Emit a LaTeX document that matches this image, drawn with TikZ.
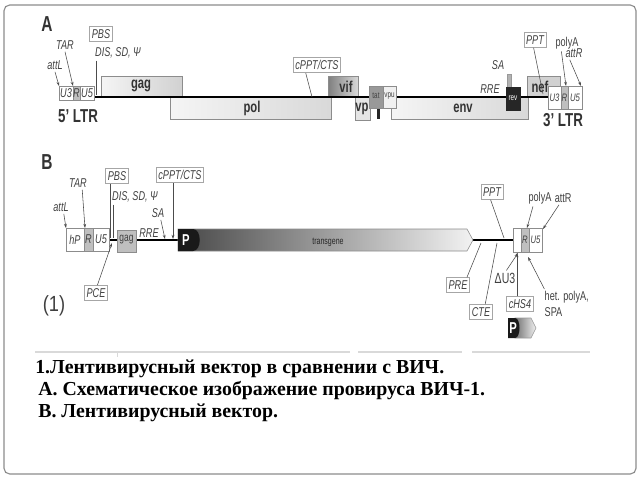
\documentclass[tikz,border=0pt]{standalone}
\usepackage{fontspec}
\setmainfont{Liberation Sans}
\newfontfamily\capfont{Liberation Serif}
\usetikzlibrary{arrows.meta}
\tikzset{
  bb/.style={line width=1.8pt},
  gbox/.style={draw=black!45, fill=black!10},
  lbl/.style={font=\fontsize{6.5}{8}\selectfont\itshape, text=black!75, inner sep=1pt, yscale=1.4, transform shape},
  upl/.style={lbl, font=\fontsize{6.5}{8}\selectfont},
  tagbox/.style={lbl, draw=black!35, fill=white, inner sep=1.5pt},
  gname/.style={font=\fontsize{8}{9}\selectfont\bfseries, text=black!80, inner sep=0pt, yscale=1.4, transform shape},
  ptr/.style={draw=black!70, line width=0.4pt},
  ar/.style={ptr, -{Stealth[length=3pt, width=2pt]}},
  capline/.style={anchor=base west, inner sep=0pt, font=\capfont\bfseries\fontsize{14.1}{16}\selectfont},
}
\begin{document}
\begin{tikzpicture}[x=0.025cm, y=-0.025cm]
\useasboundingbox (0,0) rectangle (640,480);
\draw[black!45, line width=0.8pt, rounded corners=4pt] (4,5) rectangle (636,474);

% A: provirus
\node[gname, font=\fontsize{11}{12}\selectfont\bfseries] (labA) at (47,24) {A};
\coordinate (ltr5) at (94,97);
\coordinate (ltr3) at (548,97);
\draw[gbox, left color=black!4, right color=black!18] (101,76) rectangle (182,97);
\node[gname] (gagA) at (141,86) {gag};
\draw[gbox, left color=black!4, right color=black!15] (170,97) rectangle (331,119);
\node[gname] (polA) at (252,108) {pol};
\draw[gbox, left color=black!50, right color=black!15] (328,76) rectangle (358,97);
\node[gname] (vifA) at (346,87) {vif};
\draw[gbox, fill=black!10] (355,97) rectangle (370,120);
\node[gname] (vprA) at (362,109) {vp};
\draw[gbox, left color=black!4, right color=black!15] (391,97) rectangle (528,119);
\node[gname] (envA) at (463,108) {env};
\draw[gbox, fill=black!18] (527,76) rectangle (560,97);
\node[gname] (nefA) at (540,87) {nef};
\draw[bb] (ltr5) -- (ltr3);
% small genes over the backbone
\fill[black!85] (377,108) rectangle (380,119);
\draw[gbox, fill=black!40] (369,86) rectangle (383,108);
\node[upl, font=\fontsize{4.5}{5}\selectfont] (tatA) at (376,96) {tat};
\draw[gbox, fill=black!6] (383,86) rectangle (396,108);
\node[upl, font=\fontsize{4.5}{5}\selectfont] (vpuA) at (389.5,96) {vpu};
\draw[black!40, fill=black!30] (507,74) rectangle (511,87);
\draw[black!85, fill=black!85] (506,87) rectangle (520,110);
\node[upl, font=\fontsize{4.5}{5}\selectfont, text=white] (revA) at (513,98) {rev};
\foreach \a/\b/\c/\t in {59/73/white/U3, 73/80/black!25/R, 80/94/white/U5}{
  \draw[black!45, fill=\c] (\a,86) rectangle (\b,100);
  \node[lbl] (l5\t) at ({(\a+\b)/2},93) {\t};}
\foreach \a/\b/\c/\t in {548/561/white/U3, 561/568/black!25/R, 568/582/white/U5}{
  \draw[black!45, fill=\c] (\a,86) rectangle (\b,109);
  \node[lbl, font=\fontsize{5.5}{6}\selectfont\itshape] (l3\t) at ({(\a+\b)/2},97.5) {\t};}
\node[gname, font=\fontsize{9.5}{10}\selectfont\bfseries] (ltr5lbl) at (78,116) {5' LTR};
\node[gname, font=\fontsize{9.5}{10}\selectfont\bfseries] (ltr3lbl) at (563,120) {3' LTR};

\node[lbl] (attLA) at (55,65) {attL};
\node[lbl] (tarA) at (65,45) {TAR};
\node[tagbox] (pbsA) at (101,34) {PBS};
\node[lbl] (disA) at (118,53) {DIS, SD, Ψ};
\node[tagbox] (cpptA) at (317,65) {cPPT/CTS};
\node[lbl] (saA) at (498,65) {SA};
\node[lbl] (rreA) at (490,89) {RRE};
\node[tagbox] (pptA) at (535,40) {PPT};
\node[upl] (polyAA) at (567,43) {polyA};
\node[lbl] (attRA) at (574,53) {attR};
\coordinate (attLAt) at (59,86);
\coordinate (tarAt) at (73,86);
\coordinate (disAt) at (96,95);
\coordinate (cpptAt) at (312,97);
\coordinate (pptAt) at (543,94);
\coordinate (polyAAt) at (566,86);
\coordinate (attRAt) at (581,86);
\draw[ar] (attLA.south) -- (attLAt);
\draw[ar] (tarA.south) -- (tarAt);
\draw[ptr] (disAt |- disA.south) -- (disAt);
\draw[ptr] ([xshift=-8pt]cpptA.south) -- (cpptAt);
\draw[ptr] ([xshift=-1pt]pptA.south) -- (pptAt);
\draw[ar] ([xshift=-4pt]polyAA.south) -- (polyAAt);
\draw[ar] ([xshift=-3pt]attRA.south) -- (attRAt);

% B: vector
\node[gname, font=\fontsize{11}{12}\selectfont\bfseries] (labB) at (47,162) {B};
\coordinate (ltrBl) at (109,240);
\coordinate (ltrBr) at (513,240);
\draw[bb] (ltrBl) -- (ltrBr);
\draw[gbox, fill=black!25] (117,230) rectangle (136,252);
\node[upl, font=\fontsize{6}{7}\selectfont] (gagB) at (126.5,240) {gag};
\path[draw=black!45, left color=black!72, right color=black!5]
  (178,229) -- (467,229) -- (473,240) -- (467,251) -- (178,251) -- cycle;
\fill[black!90] (178,229) -- (193,229) .. controls (202,229) and (202,251) .. (193,251) -- (178,251) -- cycle;
\node[gname, text=white] (pB) at (186,240) {P};
\node[upl, font=\fontsize{5}{6}\selectfont, text=black!85] (tgB) at (328,242) {transgene};
\foreach \a/\b/\c/\t/\n in {66/84/white/hP/1, 84/93/black!25/R/2, 93/109/white/U5/3}{
  \draw[black!45, fill=\c] (\a,228) rectangle (\b,251);
  \node[lbl] (lL\n) at ({(\a+\b)/2},239.5) {\t};}
\foreach \a/\b/\c/\t/\n in {513/521/white//1, 521/529/black!25/R/2, 529/542/white/U5/3}{
  \draw[black!45, fill=\c] (\a,228) rectangle (\b,252);
  \node[lbl, font=\fontsize{5.5}{6}\selectfont\itshape] (lR\n) at ({(\a+\b)/2},240) {\t};}

\node[lbl] (attLB) at (61,207) {attL};
\node[lbl] (tarB) at (78,183) {TAR};
\node[tagbox] (pbsB) at (117,176) {PBS};
\node[lbl] (disB) at (135,197) {DIS, SD, Ψ};
\node[tagbox] (cpptB) at (180,175) {cPPT/CTS};
\node[lbl] (saB) at (158,213) {SA};
\node[lbl] (rreB) at (149,233) {RRE};
\node[tagbox] (pceB) at (96,293) {PCE};
\node[upl, font=\fontsize{13}{14}\selectfont, yscale=1.2/1.4] (oneB) at (54,306) {(1)};
\node[tagbox] (pptB) at (492,192) {PPT};
\node[upl] (polyAB) at (540,198) {polyA};
\node[upl, anchor=west] (attRB) at (polyAB.east) {attR};
\node[tagbox] (preB) at (458,285) {PRE};
\node[tagbox] (cteB) at (481,312) {CTE};
\node[upl, font=\fontsize{7.5}{8}\selectfont] (du3B) at (505,278) {ΔU3};
\node[tagbox] (chsB) at (520,304) {cHS4};
\node[upl, anchor=north west, align=left] (hetB) at (543,289) {het. polyA,\\SPA};
\coordinate (attLBt) at (66,228);
\coordinate (tarBt) at (85,228);
\coordinate (pbsBt) at (110,238);
\coordinate (disBt) at (113,238);
\coordinate (cpptBt) at (173,239);
\coordinate (saBt) at (165,239);
\coordinate (pceBt) at (112,243);
\coordinate (pptBt) at (504,238);
\coordinate (polyABt) at (527,228);
\coordinate (attRBt) at (543,229);
\coordinate (preBt) at (481,243);
\coordinate (cteBt) at (497,243);
\coordinate (du3Bt) at (518,253);
\coordinate (chsBt) at (517,253);
\coordinate (hetBt) at (528,257);
\draw[ar] ([xshift=2pt]attLB.south) -- (attLBt);
\draw[ar] ([xshift=3pt]tarB.south) -- (tarBt);
\draw[ptr] (pbsBt |- pbsB.south) -- (pbsBt);
\draw[ptr] (disBt |- disB.south) -- (disBt);
\draw[ar] (cpptBt |- cpptB.south) -- (cpptBt);
\draw[ar] ([xshift=2pt]saB.south) -- (saBt);
\draw[ar] ([xshift=1pt]pceB.north) -- (pceBt);
\draw[ptr] ([xshift=-1pt]pptB.south) -- (pptBt);
\draw[ar] ([xshift=-5pt]polyAB.south) -- (polyABt);
\draw[ar] ([xshift=-3pt]attRB.south) -- (attRBt);
\draw[ptr] ([xshift=-2pt]preB.north east) -- (preBt);
\draw[ptr] ([xshift=3pt]cteB.north) -- (cteBt);
\draw[ar] ([xshift=1pt]du3B.north) -- (du3Bt);
\draw[ar] (chsBt |- chsB.north) -- (chsBt);
\draw[ar] ([xshift=1pt]hetB.north west) -- (hetBt);
% little promoter arrow
\path[draw=black!40, left color=black!55, right color=black!6]
  (515,318) -- (531,318) -- (536,328) -- (531,338) -- (515,338) -- cycle;
\fill[black!90] (508,318) -- (515,318) .. controls (521,318) and (521,338) .. (515,338) -- (508,338) -- cycle;
\node[gname, text=white] (pB2) at (513,328) {P};

% caption
\draw[black!15, line width=0.8pt] (35,352) -- (350,352) (358,352) -- (462,352) (472,352) -- (590,352);
\draw[black!15] (117,352) -- (117,357);
\node[capline] (cap1) at (35,373) {1.Лентивирусный вектор в сравнении с ВИЧ.};
\node[capline] (cap2) at (38,395) {А. Схематическое изображение провируса ВИЧ-1.};
\node[capline] (cap3) at (38,417) {В. Лентивирусный вектор.};
\end{tikzpicture}
\end{document}
